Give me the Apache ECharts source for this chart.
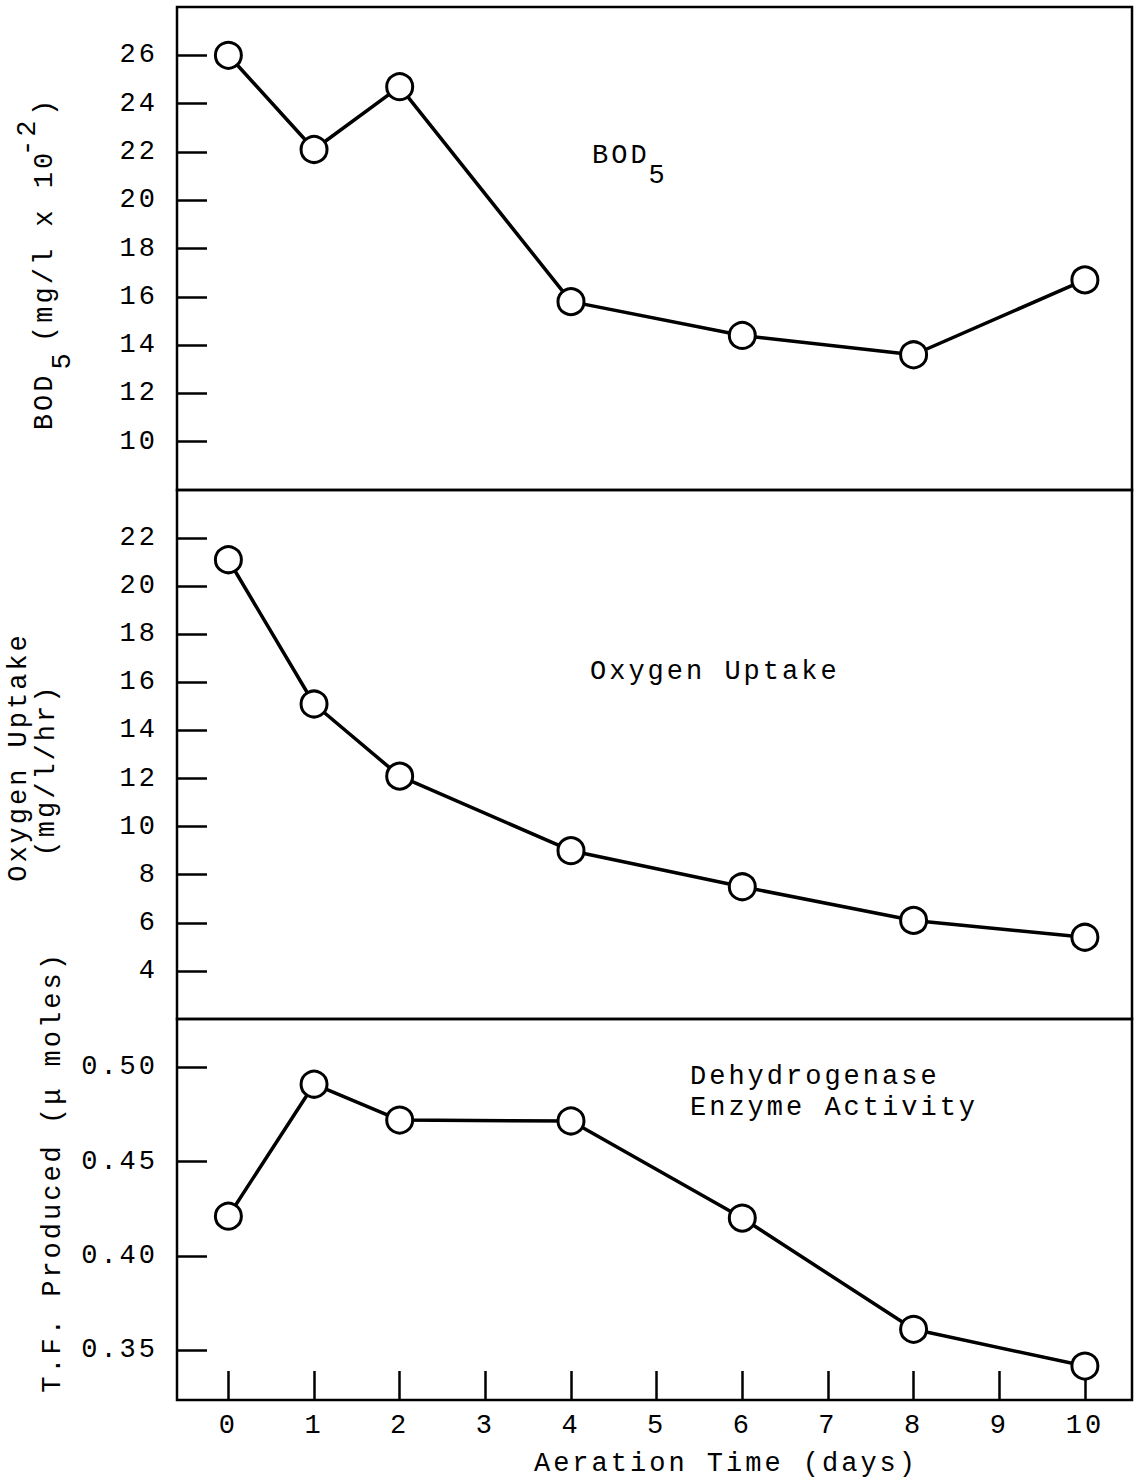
<!DOCTYPE html>
<html>
<head>
<meta charset="utf-8">
<script src="https://cdn.jsdelivr.net/npm/echarts@6/dist/echarts.min.js"></script>
<style>
  html, body { margin: 0; padding: 0; background: #fff; }
  #chart { width: 1135px; height: 1483px; }
  /* typewriter look: wide spacing between characters */
  #chart text { letter-spacing: 3px; }
</style>
</head>
<body>
<div id="chart"></div>
<script>
const days = [0, 1, 2, 4, 6, 8, 10];
const bodValues = [26.0, 22.1, 24.7, 15.8, 14.4, 13.6, 16.7];
const uptakeValues = [21.1, 15.1, 12.1, 9.0, 7.5, 6.1, 5.4];
const tfValues = [0.421, 0.491, 0.472, 0.4715, 0.420, 0.361, 0.3415];

const dayTicks = [0, 1, 2, 3, 4, 5, 6, 7, 8, 9, 10];
const bodTicks = [10, 12, 14, 16, 18, 20, 22, 24, 26];
const uptakeTicks = [4, 6, 8, 10, 12, 14, 16, 18, 20, 22];
const tfTicks = [0.35, 0.40, 0.45, 0.50];

const FONT = 'Liberation Mono';
const FS = 27;

function panelGrid(top, height) {
    return {
        left: 177, right: 3, top: top, height: height,
        show: true, borderColor: '#000', borderWidth: 2.5,
        containLabel: false, outerBoundsMode: 'none'
    };
}

function dayAxis(gridIndex, visible) {
    return {
        type: 'value', gridIndex: gridIndex, min: -0.6, max: 10.55,
        show: visible,
        axisLine: { show: false, onZero: false },
        splitLine: { show: false },
        axisTick: { show: true, inside: true, length: 29, customValues: dayTicks,
            lineStyle: { color: '#000', width: 2.5 } },
        axisLabel: { customValues: dayTicks, margin: 12, color: '#000',
            fontFamily: FONT, fontSize: FS }
    };
}

function valueAxis(gridIndex, min, max, ticks, fmt) {
    return {
        type: 'value', gridIndex: gridIndex, min: min, max: max,
        axisLine: { show: false, onZero: false },
        splitLine: { show: false },
        axisTick: { show: true, inside: true, length: 30, customValues: ticks,
            lineStyle: { color: '#000', width: 2.5 } },
        axisLabel: { customValues: ticks, margin: 19, color: '#000',
            fontFamily: FONT, fontSize: FS, formatter: fmt }
    };
}

function lineSeries(index, values) {
    return {
        type: 'line', xAxisIndex: index, yAxisIndex: index,
        data: days.map((d, i) => [d, values[i]]),
        symbol: 'circle', symbolSize: 26,
        itemStyle: { color: '#fff', borderColor: '#000', borderWidth: 3 },
        lineStyle: { color: '#000', width: 3.5 },
        animation: false
    };
}

function rs(extra) {
    return Object.assign({ fontFamily: FONT, fontSize: FS, fill: '#000', lineHeight: 56 }, extra);
}

function label(x, y, text, rotated, extra) {
    return {
        type: 'text', x: x, y: y, rotation: rotated ? Math.PI / 2 : 0,
        style: Object.assign({
            text: text, fontFamily: FONT, fontSize: FS, fill: '#000',
            align: rotated ? 'center' : 'left', verticalAlign: 'middle'
        }, extra || {})
    };
}

const chart = echarts.init(document.getElementById('chart'), null, { renderer: 'svg' });

chart.setOption({
    animation: false,
    backgroundColor: '#fff',
    grid: [panelGrid(7, 483), panelGrid(490, 529), panelGrid(1019, 381)],
    xAxis: [dayAxis(0, false), dayAxis(1, false), dayAxis(2, true)],
    yAxis: [
        valueAxis(0, 8, 28, bodTicks, v => String(v)),
        valueAxis(1, 2, 24, uptakeTicks, v => String(v)),
        valueAxis(2, 0.3235, 0.5256, tfTicks, v => v.toFixed(2))
    ],
    series: [
        lineSeries(0, bodValues),
        lineSeries(1, uptakeValues),
        lineSeries(2, tfValues)
    ],
    graphic: [
        // panel captions
        label(592, 156, '{m|BOD}{s|5}', false, {
            rich: { m: rs({}), s: rs({ verticalAlign: 'bottom', height: 16, padding: [0, 0, 0, 8] }) }
        }),
        label(590, 672, 'Oxygen Uptake', false),
        label(690, 1092, 'Dehydrogenase\nEnzyme Activity', false, { lineHeight: 31 }),

        // y axis titles
        label(45, 262, '{m|BOD}{s|5}{t|(mg/l x 10}{p|-2}{q|)}', true, {
            rich: {
                m: rs({}),
                s: rs({ verticalAlign: 'bottom', height: 20, padding: [0, 0, 0, 9] }),
                t: rs({ padding: [0, 0, 0, 25] }),
                p: rs({ verticalAlign: 'top', height: 22, padding: [0, 0, 0, 12] }),
                q: rs({ padding: [0, 0, 0, 6] })
            }
        }),
        label(19, 757, 'Oxygen Uptake', true),
        label(47, 770, '(mg/l/hr)', true),
        label(53, 1172, 'T.F. Produced (\u03bc moles)', true),

        // x axis title
        label(726, 1464, 'Aeration Time (days)', false, { align: 'center' })
    ]
});
</script>
</body>
</html>
